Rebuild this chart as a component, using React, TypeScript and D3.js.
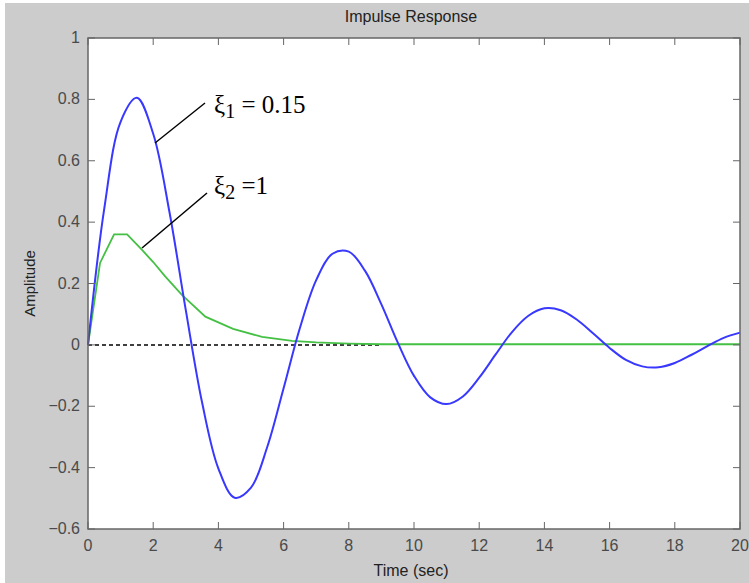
import React from "react";
import * as d3 from "d3";

// Time samples (sec) and amplitudes
const blueTimes = [0, 0.5, 1, 1.5, 2, 2.5, 3, 3.5, 4, 4.5, 5, 5.5, 6, 6.5, 7, 7.5, 8, 8.5, 9, 9.5, 10,
  10.5, 11, 11.5, 12, 12.5, 13, 13.5, 14, 14.5, 15, 15.5, 16, 16.5, 17, 17.5, 18, 18.5, 19, 19.5, 20];
const blueValues = [0, 0.445, 0.727, 0.805, 0.688, 0.432, 0.113, -0.188, -0.403, -0.498, -0.465,
  -0.332, -0.141, 0.055, 0.211, 0.297, 0.304, 0.241, 0.132, 0.008, -0.101,
  -0.171, -0.193, -0.168, -0.107, -0.032, 0.041, 0.094, 0.119, 0.113, 0.082,
  0.037, -0.010, -0.049, -0.070, -0.073, -0.059, -0.033, -0.004, 0.023, 0.040];

const greenTimes = [0, 0.37, 0.8, 1.2, 1.65, 2.0, 2.36, 2.88, 3.6, 4.45, 5.34, 6.26, 7.0, 8.0, 9.0, 20];
const greenValues = [0, 0.267, 0.36, 0.36, 0.31, 0.27, 0.224, 0.163, 0.092, 0.052, 0.026, 0.013, 0.008, 0.004, 0.002, 0.002];

const xTicks = [0, 2, 4, 6, 8, 10, 12, 14, 16, 18, 20];
const yTicks = [-0.6, -0.4, -0.2, 0, 0.2, 0.4, 0.6, 0.8, 1];
const zeroLineEnd = 9;

const W = 749;
const H = 583;
const plot = { left: 88, right: 740, top: 38, bottom: 529 };
const axisFont = "'Liberation Sans Narrow', 'Arial Narrow', 'Liberation Sans', Arial, sans-serif";
const serif = "'Liberation Serif', 'Times New Roman', serif";
const labelColor = "#4a4a4a";

export default function App() {
  const x = d3.scaleLinear().domain([0, 20]).range([plot.left, plot.right]);
  const y = d3.scaleLinear().domain([-0.6, 1]).range([plot.bottom, plot.top]);

  const blueLine = d3.line<number>()
    .x((d, i) => x(blueTimes[i]))
    .y(d => y(d))
    .curve(d3.curveCatmullRom.alpha(0.5));

  const greenLine = d3.line<number>()
    .x((d, i) => x(greenTimes[i]))
    .y(d => y(d));

  const tickLen = 7;

  return (
    <div style={{ position: "absolute", left: 0, top: 0 }}>
      <svg width={W} height={H} style={{ display: "block", background: "#fff" }}>
        <rect x={5} y={3} width={W - 5} height={H - 3} fill="#cccccc" />

        {/* plot box */}
        <rect x={plot.left} y={plot.top} width={plot.right - plot.left} height={plot.bottom - plot.top}
          fill="#ffffff" />

        {/* zero reference line */}
        <line x1={x(0)} x2={x(zeroLineEnd)} y1={y(0)} y2={y(0)} stroke="#000" strokeWidth={1.5}
          strokeDasharray="4,3" />

        <path d={greenLine(greenValues) || ""} fill="none" stroke="#44c044" strokeWidth={1.8} />
        <path d={blueLine(blueValues) || ""} fill="none" stroke="#3838ff" strokeWidth={2} />

        {/* ticks on all four sides */}
        {xTicks.map(t => (
          <g key={"xt" + t}>
            <line x1={x(t)} x2={x(t)} y1={plot.bottom} y2={plot.bottom - tickLen} stroke="#666" />
            <line x1={x(t)} x2={x(t)} y1={plot.top} y2={plot.top + tickLen} stroke="#666" />
            <text x={x(t)} y={551} textAnchor="middle" fontFamily={axisFont} fontSize={16}
              fill={labelColor}>{t}</text>
          </g>
        ))}
        {yTicks.map(t => (
          <g key={"yt" + t}>
            <line x1={plot.left} x2={plot.left + tickLen} y1={y(t)} y2={y(t)} stroke="#666" />
            <line x1={plot.right} x2={plot.right - tickLen} y1={y(t)} y2={y(t)} stroke="#666" />
            <text x={80} y={y(t) + 5} textAnchor="end" fontFamily={axisFont} fontSize={16}
              fill={labelColor}>{d3.format("")(+t.toFixed(1))}</text>
          </g>
        ))}
        <rect x={plot.left} y={plot.top} width={plot.right - plot.left} height={plot.bottom - plot.top}
          fill="none" stroke="#666" strokeWidth={1.5} />

        {/* titles */}
        <text x={411} y={22} textAnchor="middle" fontFamily={axisFont}
          fontSize={16} fill="#222">Impulse Response</text>
        <text x={411} y={576} textAnchor="middle" fontFamily={axisFont}
          fontSize={16} fill="#222">Time (sec)</text>
        <text transform={`translate(35, ${(plot.top + plot.bottom) / 2}) rotate(-90)`} textAnchor="middle"
          fontFamily={axisFont} fontSize={15} fill="#222">Amplitude</text>

        {/* annotations */}
        <line x1={155} y1={143} x2={205} y2={103} stroke="#000" strokeWidth={1.5} />
        <line x1={142} y1={248} x2={207} y2={193} stroke="#000" strokeWidth={1.5} />
        <text x={214} y={113} fontFamily={serif} fontSize={25} fill="#000">
          ξ<tspan dy={5} fontSize={20}>1</tspan><tspan dy={-5}> = 0.15</tspan>
        </text>
        <text x={214} y={194} fontFamily={serif} fontSize={25} fill="#000">
          ξ<tspan dy={5} fontSize={20}>2</tspan><tspan dy={-5}> =1</tspan>
        </text>
      </svg>
    </div>
  );
}
